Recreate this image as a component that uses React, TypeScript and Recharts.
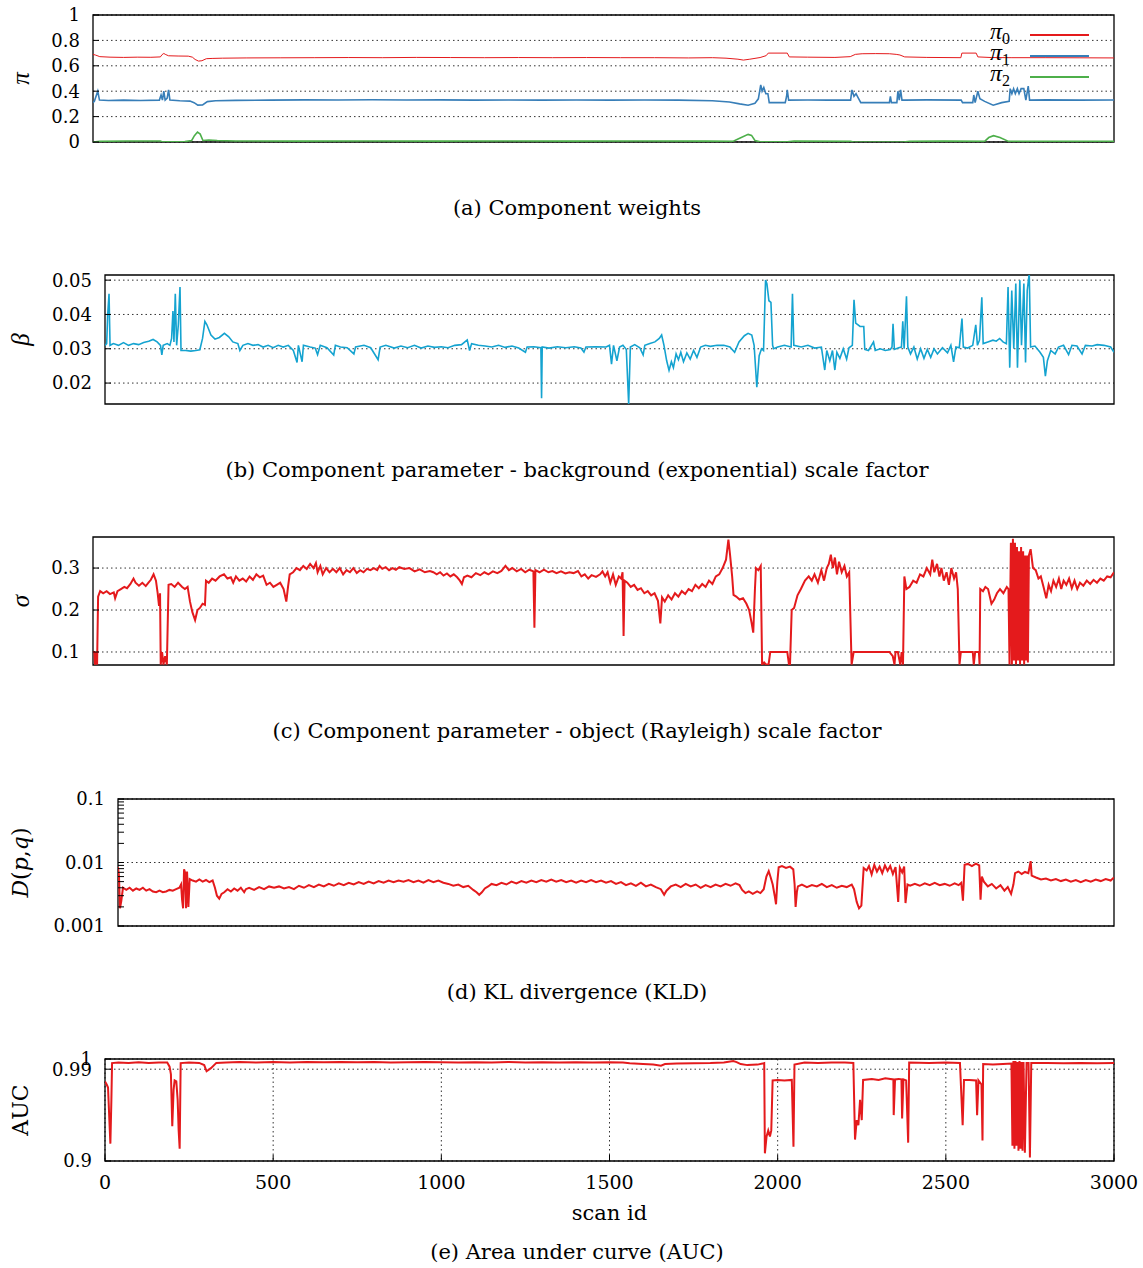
import React from 'react';
import { LineChart, Line, XAxis, YAxis, CartesianGrid, ReferenceArea, Legend } from 'recharts';

type Pt = [number, number];

const FONT = '"DejaVu Serif", serif';
const GREEK = '"Liberation Serif", serif';
const RED = '#e41a1c';
const BLUE = '#377eb8';
const GREEN = '#4daf4a';
const CYAN = '#14a3d0';

const xTicks = [0, 500, 1000, 1500, 2000, 2500, 3000];
const logMinor = [0.002, 0.003, 0.004, 0.005, 0.006, 0.007, 0.008, 0.009, 0.02, 0.03, 0.04, 0.05, 0.06, 0.07, 0.08, 0.09];

// (a) component weights
const pi0: Pt[] = [
  [0, 0.69], [8, 0.684], [20, 0.672], [50, 0.668], [90, 0.666], [130, 0.668], [170, 0.667], [198, 0.67],
  [203, 0.688], [208, 0.697], [214, 0.688], [222, 0.679], [250, 0.677], [280, 0.676], [292, 0.668], [300, 0.65],
  [310, 0.637], [320, 0.64], [333, 0.656], [350, 0.658], [380, 0.66], [450, 0.662], [550, 0.663], [650, 0.664],
  [750, 0.665], [850, 0.664], [950, 0.666], [1050, 0.665], [1150, 0.664], [1250, 0.665], [1350, 0.664],
  [1450, 0.665], [1550, 0.664], [1650, 0.664], [1750, 0.662], [1820, 0.664], [1860, 0.66], [1895, 0.652],
  [1911, 0.645], [1930, 0.652], [1960, 0.665], [1978, 0.68], [1984, 0.7], [2040, 0.7], [2046, 0.67],
  [2100, 0.668], [2180, 0.666], [2225, 0.672], [2240, 0.69], [2260, 0.695], [2300, 0.696], [2340, 0.695],
  [2360, 0.69], [2371, 0.685], [2385, 0.67], [2450, 0.666], [2550, 0.664], [2553, 0.7], [2595, 0.7],
  [2600, 0.67], [2640, 0.665], [2700, 0.664], [2800, 0.664], [2900, 0.663], [3000, 0.662],
];
const pi1: Pt[] = [
  [0, 0.31], [4, 0.32], [9, 0.36], [14, 0.4], [19, 0.33], [45, 0.327], [90, 0.33], [140, 0.327], [195, 0.33],
  [200, 0.37], [204, 0.33], [208, 0.4], [212, 0.33], [218, 0.345], [222, 0.41], [226, 0.33], [255, 0.325],
  [285, 0.322], [297, 0.31], [308, 0.29], [322, 0.292], [336, 0.318], [360, 0.325], [420, 0.328], [520, 0.33],
  [620, 0.332], [720, 0.331], [820, 0.333], [920, 0.331], [1020, 0.332], [1120, 0.33], [1220, 0.331],
  [1320, 0.33], [1420, 0.331], [1520, 0.33], [1620, 0.331], [1720, 0.33], [1820, 0.325], [1870, 0.315],
  [1900, 0.3], [1925, 0.29], [1945, 0.305], [1955, 0.34], [1962, 0.45], [1966, 0.4], [1971, 0.43],
  [1977, 0.38], [1983, 0.38], [1987, 0.31], [2034, 0.31], [2038, 0.36], [2040, 0.41], [2044, 0.33],
  [2100, 0.331], [2160, 0.33], [2226, 0.33], [2230, 0.41], [2236, 0.36], [2242, 0.38], [2248, 0.35],
  [2256, 0.31], [2340, 0.31], [2343, 0.36], [2346, 0.31], [2362, 0.31], [2365, 0.4], [2369, 0.33],
  [2373, 0.41], [2377, 0.33], [2385, 0.33], [2450, 0.332], [2551, 0.33], [2555, 0.31], [2585, 0.31],
  [2588, 0.37], [2592, 0.31], [2600, 0.4], [2606, 0.34], [2620, 0.32], [2645, 0.29], [2670, 0.31],
  [2692, 0.32], [2695, 0.42], [2700, 0.38], [2705, 0.42], [2710, 0.38], [2716, 0.42], [2721, 0.38],
  [2727, 0.42], [2735, 0.42], [2741, 0.33], [2748, 0.44], [2752, 0.33], [2800, 0.332], [2900, 0.33],
  [3000, 0.331],
];
const pi2: Pt[] = [
  [0, 0.0], [20, 0.005], [100, 0.008], [198, 0.008], [204, 0.001], [235, 0.001], [270, 0.003], [290, 0.012],
  [298, 0.05], [307, 0.078], [315, 0.062], [323, 0.012], [340, 0.016], [365, 0.012], [420, 0.008],
  [600, 0.007], [800, 0.008], [1000, 0.007], [1200, 0.008], [1400, 0.007], [1600, 0.008], [1800, 0.007],
  [1880, 0.005], [1900, 0.03], [1925, 0.06], [1935, 0.052], [1945, 0.012], [1960, 0.002], [2040, 0.002],
  [2060, 0.008], [2226, 0.006], [2235, 0.0], [2380, 0.0], [2400, 0.006], [2500, 0.007], [2620, 0.005],
  [2632, 0.035], [2646, 0.05], [2665, 0.035], [2690, 0.005], [2800, 0.005], [3000, 0.006],
];

// (b) background scale factor
const beta: Pt[] = [
  [0, 0.031], [5, 0.0315], [8, 0.04], [12, 0.046], [15, 0.031], [25, 0.0315], [40, 0.031], [55, 0.0318],
  [70, 0.031], [85, 0.0315], [100, 0.0312], [115, 0.0318], [130, 0.0322], [143, 0.0327], [155, 0.032],
  [165, 0.031], [169, 0.0282], [173, 0.031], [185, 0.0315], [193, 0.031], [198, 0.033], [202, 0.041],
  [205, 0.032], [209, 0.046], [213, 0.031], [218, 0.037], [223, 0.048], [226, 0.0295], [240, 0.0295],
  [255, 0.0293], [270, 0.0295], [282, 0.0297], [290, 0.033], [297, 0.038], [303, 0.037], [315, 0.034],
  [327, 0.0328], [340, 0.0333], [355, 0.0345], [368, 0.0335], [380, 0.032], [395, 0.0315], [401, 0.0295],
  [410, 0.031], [425, 0.0315], [440, 0.031], [455, 0.0312], [470, 0.0305], [485, 0.031], [500, 0.0303],
  [515, 0.031], [530, 0.0305], [545, 0.031], [560, 0.0295], [571, 0.026], [575, 0.031], [586, 0.0262],
  [590, 0.031], [610, 0.0305], [625, 0.0302], [632, 0.0283], [640, 0.031], [660, 0.0303], [680, 0.0282],
  [685, 0.031], [700, 0.0305], [720, 0.0303], [740, 0.0285], [745, 0.0305], [770, 0.031], [790, 0.0303],
  [812, 0.0268], [818, 0.0305], [835, 0.031], [860, 0.0302], [880, 0.0308], [900, 0.0303], [920, 0.031],
  [940, 0.0302], [960, 0.0308], [980, 0.0304], [1000, 0.0306], [1020, 0.0303], [1040, 0.031], [1060, 0.0312],
  [1077, 0.0326], [1084, 0.0295], [1090, 0.0315], [1110, 0.031], [1130, 0.0308], [1150, 0.0305], [1170, 0.031],
  [1190, 0.0304], [1210, 0.0308], [1230, 0.0302], [1250, 0.029], [1255, 0.0305], [1275, 0.0306], [1296, 0.0303],
  [1298, 0.0156], [1300, 0.0305], [1320, 0.0302], [1345, 0.0306], [1370, 0.0303], [1395, 0.0306], [1415, 0.0302],
  [1424, 0.029], [1430, 0.0305], [1460, 0.0306], [1490, 0.0305], [1500, 0.031], [1506, 0.0255], [1512, 0.031],
  [1522, 0.0265], [1530, 0.0305], [1540, 0.031], [1550, 0.0298], [1557, 0.0139], [1562, 0.0305], [1575, 0.0312],
  [1590, 0.0303], [1600, 0.0282], [1605, 0.031], [1620, 0.0315], [1635, 0.032], [1648, 0.033], [1655, 0.034],
  [1662, 0.031], [1670, 0.0265], [1677, 0.0237], [1684, 0.0262], [1690, 0.0245], [1698, 0.0285], [1705, 0.0268],
  [1712, 0.029], [1720, 0.0262], [1730, 0.0288], [1740, 0.027], [1750, 0.0295], [1760, 0.0275], [1771, 0.0305],
  [1785, 0.031], [1800, 0.0307], [1820, 0.031], [1840, 0.031], [1858, 0.0305], [1872, 0.029], [1885, 0.032],
  [1901, 0.0338], [1912, 0.0345], [1923, 0.034], [1930, 0.031], [1938, 0.0188], [1945, 0.028], [1952, 0.03],
  [1958, 0.0295], [1964, 0.05], [1968, 0.049], [1974, 0.044], [1980, 0.0435], [1985, 0.031], [1988, 0.03],
  [2000, 0.0305], [2020, 0.031], [2040, 0.0305], [2044, 0.046], [2048, 0.031], [2070, 0.0305], [2090, 0.031],
  [2110, 0.0302], [2130, 0.0305], [2140, 0.0238], [2146, 0.0295], [2155, 0.0265], [2163, 0.0295], [2170, 0.0238],
  [2176, 0.029], [2185, 0.0272], [2195, 0.03], [2205, 0.027], [2212, 0.0303], [2222, 0.031], [2227, 0.0443],
  [2232, 0.0375], [2245, 0.0365], [2256, 0.0365], [2259, 0.0298], [2270, 0.0295], [2285, 0.032], [2290, 0.0295],
  [2305, 0.03], [2320, 0.0295], [2335, 0.0298], [2340, 0.0305], [2343, 0.0373], [2347, 0.0298], [2360, 0.0303],
  [2368, 0.0305], [2372, 0.038], [2376, 0.03], [2383, 0.0453], [2387, 0.0305], [2395, 0.0285], [2405, 0.0305],
  [2415, 0.027], [2425, 0.03], [2435, 0.0272], [2445, 0.0298], [2455, 0.0275], [2465, 0.03], [2475, 0.0285],
  [2490, 0.0303], [2505, 0.0288], [2515, 0.031], [2523, 0.0262], [2530, 0.0305], [2540, 0.0303], [2548, 0.0388],
  [2552, 0.0305], [2565, 0.0302], [2580, 0.031], [2589, 0.037], [2594, 0.031], [2600, 0.0325], [2607, 0.045],
  [2611, 0.0315], [2625, 0.032], [2640, 0.0325], [2650, 0.0322], [2660, 0.033], [2670, 0.032], [2680, 0.0315],
  [2685, 0.048], [2690, 0.0245], [2696, 0.047], [2702, 0.03], [2708, 0.049], [2713, 0.0245], [2720, 0.05],
  [2725, 0.031], [2732, 0.049], [2737, 0.026], [2742, 0.047], [2748, 0.052], [2752, 0.0305], [2765, 0.0308],
  [2780, 0.029], [2790, 0.0275], [2796, 0.022], [2802, 0.0265], [2812, 0.0295], [2825, 0.0285], [2835, 0.0305],
  [2850, 0.031], [2865, 0.0283], [2875, 0.031], [2890, 0.0308], [2905, 0.0285], [2915, 0.031], [2935, 0.0308],
  [2950, 0.0312], [2970, 0.031], [2990, 0.0305], [3000, 0.029],
];

// (c) object scale factor
const sigma: Pt[] = [
  [0, 0.1], [4, 0.1], [6, 0.07], [10, 0.1], [12, 0.07], [15, 0.232], [21, 0.245], [30, 0.24], [40, 0.245],
  [50, 0.238], [61, 0.242], [65, 0.228], [72, 0.245], [82, 0.25], [92, 0.255], [100, 0.252], [110, 0.262],
  [119, 0.275], [125, 0.265], [135, 0.258], [145, 0.265], [155, 0.257], [163, 0.265], [170, 0.272], [178, 0.285],
  [185, 0.27], [190, 0.24], [194, 0.21], [197, 0.24], [199, 0.07], [203, 0.1], [207, 0.07], [212, 0.09],
  [217, 0.07], [222, 0.26], [230, 0.262], [240, 0.255], [250, 0.265], [262, 0.255], [270, 0.25], [278, 0.255],
  [285, 0.22], [292, 0.195], [300, 0.176], [307, 0.2], [314, 0.205], [322, 0.215], [329, 0.212], [332, 0.27],
  [340, 0.265], [350, 0.275], [360, 0.27], [372, 0.28], [385, 0.285], [395, 0.275], [405, 0.278], [412, 0.265],
  [420, 0.28], [430, 0.27], [440, 0.275], [450, 0.268], [460, 0.28], [470, 0.272], [480, 0.285], [490, 0.278],
  [500, 0.282], [510, 0.26], [520, 0.265], [530, 0.255], [540, 0.26], [550, 0.265], [560, 0.25], [568, 0.22],
  [573, 0.255], [578, 0.285], [588, 0.29], [598, 0.3], [608, 0.295], [618, 0.305], [628, 0.298], [638, 0.31],
  [648, 0.3], [655, 0.312], [660, 0.29], [668, 0.305], [675, 0.285], [685, 0.3], [695, 0.29], [705, 0.298],
  [715, 0.29], [725, 0.3], [735, 0.285], [745, 0.295], [755, 0.29], [765, 0.3], [775, 0.288], [785, 0.295],
  [795, 0.29], [805, 0.298], [815, 0.295], [825, 0.3], [835, 0.295], [842, 0.305], [850, 0.298], [860, 0.302],
  [870, 0.295], [880, 0.3], [890, 0.296], [900, 0.302], [915, 0.298], [930, 0.3], [945, 0.292], [960, 0.297],
  [975, 0.29], [990, 0.293], [1000, 0.29], [1010, 0.285], [1020, 0.29], [1030, 0.282], [1040, 0.287],
  [1050, 0.28], [1060, 0.285], [1070, 0.278], [1078, 0.27], [1084, 0.262], [1090, 0.278], [1100, 0.282],
  [1112, 0.278], [1125, 0.288], [1138, 0.283], [1150, 0.29], [1162, 0.285], [1175, 0.292], [1188, 0.288],
  [1200, 0.293], [1212, 0.305], [1222, 0.295], [1232, 0.3], [1245, 0.292], [1258, 0.298], [1270, 0.29],
  [1282, 0.296], [1294, 0.292], [1297, 0.158], [1300, 0.295], [1312, 0.29], [1325, 0.296], [1338, 0.29],
  [1350, 0.293], [1362, 0.288], [1375, 0.292], [1388, 0.287], [1400, 0.29], [1412, 0.288], [1425, 0.293],
  [1435, 0.28], [1445, 0.285], [1455, 0.275], [1465, 0.283], [1478, 0.279], [1490, 0.285], [1497, 0.292],
  [1505, 0.28], [1512, 0.29], [1520, 0.265], [1528, 0.285], [1536, 0.26], [1545, 0.28], [1552, 0.275],
  [1556, 0.29], [1559, 0.138], [1562, 0.27], [1570, 0.265], [1580, 0.255], [1590, 0.26], [1600, 0.248],
  [1610, 0.252], [1620, 0.24], [1630, 0.245], [1640, 0.235], [1650, 0.24], [1660, 0.222], [1667, 0.168],
  [1672, 0.23], [1680, 0.22], [1690, 0.235], [1700, 0.225], [1710, 0.24], [1720, 0.232], [1730, 0.245],
  [1740, 0.238], [1750, 0.25], [1760, 0.245], [1770, 0.26], [1780, 0.252], [1790, 0.262], [1800, 0.255],
  [1810, 0.27], [1820, 0.262], [1830, 0.28], [1840, 0.285], [1850, 0.3], [1860, 0.32], [1867, 0.368],
  [1872, 0.33], [1878, 0.28], [1882, 0.236], [1890, 0.232], [1900, 0.225], [1910, 0.228], [1920, 0.215],
  [1928, 0.2], [1935, 0.17], [1940, 0.146], [1945, 0.25], [1948, 0.3], [1955, 0.295], [1962, 0.305],
  [1966, 0.07], [1972, 0.075], [1978, 0.07], [1985, 0.07], [1990, 0.1], [2040, 0.1], [2045, 0.07], [2048, 0.07],
  [2053, 0.2], [2060, 0.205], [2070, 0.235], [2080, 0.25], [2092, 0.27], [2103, 0.28], [2112, 0.27],
  [2120, 0.285], [2130, 0.265], [2140, 0.295], [2148, 0.27], [2156, 0.3], [2162, 0.31], [2168, 0.332],
  [2174, 0.3], [2180, 0.325], [2186, 0.285], [2192, 0.315], [2200, 0.29], [2208, 0.305], [2215, 0.28],
  [2222, 0.29], [2229, 0.07], [2235, 0.1], [2300, 0.1], [2340, 0.1], [2350, 0.09], [2355, 0.07], [2358, 0.1],
  [2365, 0.1], [2372, 0.07], [2376, 0.1], [2380, 0.07], [2384, 0.28], [2390, 0.25], [2399, 0.255], [2410, 0.27],
  [2420, 0.265], [2430, 0.285], [2440, 0.28], [2450, 0.3], [2460, 0.285], [2466, 0.32], [2472, 0.29],
  [2480, 0.31], [2487, 0.28], [2493, 0.3], [2500, 0.27], [2508, 0.29], [2515, 0.26], [2522, 0.3], [2530, 0.275],
  [2536, 0.29], [2541, 0.25], [2546, 0.07], [2550, 0.1], [2585, 0.1], [2588, 0.07], [2592, 0.1], [2603, 0.1],
  [2605, 0.07], [2607, 0.25], [2615, 0.245], [2622, 0.255], [2630, 0.25], [2640, 0.215], [2648, 0.225],
  [2656, 0.24], [2665, 0.25], [2675, 0.24], [2685, 0.255], [2690, 0.25], [2693, 0.07], [2697, 0.36],
  [2700, 0.07], [2703, 0.37], [2706, 0.08], [2709, 0.36], [2712, 0.07], [2715, 0.35], [2718, 0.08],
  [2721, 0.34], [2724, 0.07], [2727, 0.35], [2730, 0.08], [2733, 0.34], [2736, 0.07], [2739, 0.33],
  [2742, 0.08], [2745, 0.33], [2747, 0.075], [2750, 0.33], [2755, 0.345], [2762, 0.3], [2770, 0.295],
  [2778, 0.275], [2785, 0.28], [2793, 0.255], [2801, 0.228], [2808, 0.26], [2815, 0.245], [2822, 0.27],
  [2830, 0.255], [2838, 0.275], [2845, 0.25], [2852, 0.27], [2860, 0.26], [2868, 0.275], [2876, 0.252],
  [2884, 0.27], [2892, 0.25], [2900, 0.265], [2910, 0.258], [2920, 0.27], [2930, 0.262], [2940, 0.272],
  [2950, 0.265], [2960, 0.275], [2970, 0.27], [2980, 0.28], [2990, 0.278], [3000, 0.29],
];

// (d) KL divergence
const kld: Pt[] = [
  [0, 0.0085], [3, 0.006], [6, 0.0019], [10, 0.0025], [15, 0.004], [25, 0.0037], [35, 0.004], [45, 0.0036],
  [55, 0.0039], [65, 0.0037], [75, 0.004], [85, 0.0036], [95, 0.0038], [105, 0.0035], [115, 0.0034],
  [125, 0.0036], [135, 0.0034], [145, 0.0035], [155, 0.0037], [165, 0.0036], [175, 0.0038], [185, 0.004],
  [190, 0.0045], [193, 0.0026], [196, 0.0019], [199, 0.0078], [202, 0.007], [205, 0.0019], [208, 0.0072],
  [212, 0.002], [216, 0.0055], [225, 0.0052], [235, 0.005], [245, 0.0054], [255, 0.005], [265, 0.0053],
  [275, 0.0049], [285, 0.0052], [292, 0.004], [298, 0.003], [305, 0.0027], [312, 0.0032], [320, 0.0034],
  [330, 0.0038], [340, 0.0035], [350, 0.0039], [360, 0.0036], [370, 0.004], [380, 0.0034], [385, 0.0038],
  [395, 0.004], [410, 0.0037], [425, 0.0041], [440, 0.0038], [455, 0.0042], [470, 0.004], [485, 0.0042],
  [500, 0.0039], [515, 0.0041], [530, 0.0038], [545, 0.0043], [560, 0.004], [575, 0.0044], [590, 0.0041],
  [605, 0.0045], [620, 0.0042], [635, 0.0046], [650, 0.0043], [665, 0.0047], [680, 0.0044], [695, 0.0048],
  [710, 0.0045], [725, 0.0049], [740, 0.0046], [755, 0.005], [770, 0.0047], [785, 0.0051], [800, 0.0048],
  [815, 0.0052], [830, 0.0049], [845, 0.0052], [860, 0.005], [875, 0.0053], [890, 0.0049], [905, 0.0052],
  [920, 0.0048], [935, 0.0053], [950, 0.0049], [965, 0.0052], [980, 0.0048], [995, 0.0046], [1010, 0.0043],
  [1025, 0.0045], [1040, 0.0041], [1055, 0.0043], [1070, 0.0037], [1080, 0.0034], [1088, 0.0031],
  [1096, 0.0034], [1105, 0.0039], [1115, 0.0042], [1125, 0.0046], [1140, 0.0044], [1155, 0.0048],
  [1170, 0.0045], [1185, 0.005], [1200, 0.0047], [1215, 0.0051], [1230, 0.0048], [1245, 0.0052], [1260, 0.0049],
  [1275, 0.0053], [1290, 0.005], [1305, 0.0054], [1320, 0.005], [1335, 0.0053], [1350, 0.0049], [1365, 0.0052],
  [1380, 0.0048], [1395, 0.0052], [1410, 0.0049], [1425, 0.0053], [1440, 0.0049], [1455, 0.0052],
  [1470, 0.0048], [1485, 0.0051], [1500, 0.0046], [1515, 0.0049], [1530, 0.0044], [1545, 0.0047],
  [1560, 0.0043], [1575, 0.0048], [1590, 0.0042], [1605, 0.0045], [1620, 0.0041], [1635, 0.0038],
  [1645, 0.0031], [1652, 0.0036], [1665, 0.0042], [1680, 0.0045], [1695, 0.0041], [1710, 0.0046],
  [1725, 0.0042], [1740, 0.0045], [1755, 0.004], [1770, 0.0044], [1785, 0.0041], [1800, 0.0045], [1815, 0.0042],
  [1830, 0.0046], [1845, 0.0043], [1860, 0.0047], [1872, 0.0044], [1880, 0.0037], [1890, 0.0033],
  [1900, 0.0035], [1912, 0.0032], [1925, 0.0035], [1935, 0.0033], [1945, 0.0038], [1953, 0.006], [1960, 0.0073],
  [1966, 0.0058], [1972, 0.0045], [1978, 0.003], [1982, 0.0022], [1986, 0.005], [1990, 0.0084], [2000, 0.0088],
  [2012, 0.0082], [2024, 0.0086], [2034, 0.0078], [2038, 0.0045], [2041, 0.002], [2045, 0.0035], [2048, 0.0042],
  [2060, 0.0045], [2075, 0.0041], [2090, 0.0044], [2105, 0.0042], [2120, 0.0046], [2135, 0.0041],
  [2150, 0.0044], [2165, 0.004], [2180, 0.0043], [2195, 0.0041], [2210, 0.0045], [2217, 0.0038],
  [2225, 0.0024], [2232, 0.0019], [2239, 0.0021], [2246, 0.0082], [2255, 0.0075], [2262, 0.0088],
  [2270, 0.0065], [2278, 0.0092], [2286, 0.0072], [2294, 0.0086], [2302, 0.0068], [2310, 0.009], [2318, 0.0074],
  [2326, 0.0088], [2334, 0.0066], [2342, 0.0085], [2350, 0.0024], [2355, 0.0083], [2362, 0.007], [2368, 0.0086],
  [2372, 0.0023], [2378, 0.0045], [2386, 0.0043], [2400, 0.0046], [2415, 0.0043], [2430, 0.0047],
  [2445, 0.0044], [2460, 0.0048], [2475, 0.0044], [2490, 0.0046], [2505, 0.0043], [2520, 0.0047],
  [2532, 0.0044], [2540, 0.0048], [2545, 0.0025], [2550, 0.0092], [2560, 0.0095], [2572, 0.0088],
  [2584, 0.0096], [2594, 0.009], [2598, 0.0026], [2602, 0.006], [2608, 0.005], [2620, 0.0042], [2632, 0.0046],
  [2645, 0.0039], [2658, 0.0044], [2670, 0.0036], [2680, 0.0041], [2690, 0.0032], [2697, 0.0045],
  [2702, 0.0068], [2712, 0.0072], [2722, 0.0066], [2732, 0.0071], [2742, 0.0068], [2749, 0.0105],
  [2752, 0.0062], [2765, 0.0058], [2780, 0.0054], [2795, 0.0056], [2810, 0.0052], [2825, 0.0055],
  [2840, 0.0051], [2855, 0.0054], [2870, 0.005], [2885, 0.0053], [2900, 0.0049], [2915, 0.0053], [2930, 0.005],
  [2945, 0.0054], [2960, 0.0051], [2975, 0.0055], [2990, 0.0052], [3000, 0.0058],
];

// (e) area under curve
const auc: Pt[] = [
  [0, 0.978], [5, 0.975], [9, 0.972], [13, 0.94], [16, 0.917], [19, 0.96], [21, 0.996], [40, 0.9965],
  [70, 0.996], [100, 0.9968], [130, 0.9962], [160, 0.9966], [185, 0.9965], [192, 0.9925], [196, 0.985],
  [200, 0.934], [204, 0.97], [207, 0.979], [212, 0.978], [216, 0.96], [219, 0.93], [222, 0.912], [225, 0.996],
  [250, 0.9965], [280, 0.9962], [295, 0.994], [302, 0.988], [315, 0.991], [331, 0.9962], [360, 0.9965],
  [400, 0.997], [450, 0.9966], [500, 0.997], [550, 0.9966], [600, 0.997], [650, 0.9968], [700, 0.997],
  [750, 0.9968], [800, 0.997], [850, 0.9966], [900, 0.9968], [950, 0.997], [1000, 0.9968], [1050, 0.9965],
  [1100, 0.9968], [1150, 0.9966], [1200, 0.997], [1250, 0.9966], [1300, 0.9968], [1350, 0.9965], [1400, 0.9968],
  [1450, 0.9966], [1500, 0.9968], [1540, 0.9965], [1560, 0.9958], [1600, 0.995], [1630, 0.9945], [1653, 0.9935],
  [1665, 0.995], [1700, 0.9955], [1750, 0.9958], [1800, 0.996], [1840, 0.9965], [1868, 0.998], [1878, 0.997],
  [1890, 0.995], [1910, 0.994], [1940, 0.9945], [1955, 0.9955], [1960, 0.996], [1962, 0.9075], [1967, 0.924],
  [1972, 0.93], [1977, 0.924], [1981, 0.93], [1985, 0.979], [2000, 0.9795], [2020, 0.979], [2042, 0.9795],
  [2047, 0.914], [2050, 0.9945], [2080, 0.9965], [2120, 0.9962], [2160, 0.9966], [2200, 0.9965], [2225, 0.9962],
  [2230, 0.921], [2235, 0.94], [2240, 0.935], [2245, 0.96], [2250, 0.94], [2254, 0.9795], [2280, 0.9805],
  [2300, 0.9795], [2320, 0.981], [2344, 0.98], [2345, 0.945], [2349, 0.98], [2360, 0.9805], [2368, 0.98],
  [2370, 0.9416], [2374, 0.98], [2382, 0.979], [2388, 0.918], [2391, 0.9965], [2450, 0.9962], [2500, 0.9966],
  [2542, 0.9962], [2550, 0.935], [2554, 0.9795], [2570, 0.9795], [2590, 0.979], [2593, 0.945], [2597, 0.979],
  [2606, 0.975], [2609, 0.92], [2611, 0.995], [2640, 0.9945], [2670, 0.995], [2695, 0.9955], [2698, 0.915],
  [2701, 0.998], [2704, 0.912], [2707, 0.998], [2710, 0.915], [2713, 0.997], [2716, 0.91], [2719, 0.998],
  [2722, 0.912], [2725, 0.997], [2728, 0.91], [2731, 0.997], [2735, 0.908], [2740, 0.996], [2746, 0.996],
  [2750, 0.9035], [2754, 0.996], [2800, 0.9962], [2850, 0.9958], [2900, 0.996], [2950, 0.9958], [3000, 0.996],
];

const captions = [
  '(a) Component weights',
  '(b) Component parameter - background (exponential) scale factor',
  '(c) Component parameter - object (Rayleigh) scale factor',
  '(d) KL divergence (KLD)',
  '(e) Area under curve (AUC)',
];
const captionY = [208, 470, 731, 992, 1252];

interface Series { pts: Pt[]; color: string; width: number; name: string }

const yTickStyle = { fill: '#000', fontSize: 18, fontFamily: FONT };
const xTickStyle = { fill: '#000', fontSize: 19, fontFamily: FONT };
const M = 15;

function PiLegend() {
  const rows: [string, string][] = [['0', RED], ['1', BLUE], ['2', GREEN]];
  return (
    <div style={{ fontFamily: GREEK, fontSize: 24 }}>
      {rows.map(([k, c]) => (
        <div key={k} style={{ display: 'flex', alignItems: 'center', height: 21 }}>
          <span style={{ width: 40, fontStyle: 'italic', lineHeight: '21px' }}>
            π<sub style={{ fontStyle: 'normal', fontSize: 16, verticalAlign: '-5px' }}>{k}</sub>
          </span>
          <span style={{ display: 'inline-block', width: 59, height: 0, borderTop: `2px solid ${c}` }} />
        </div>
      ))}
    </div>
  );
}

function Panel(props: {
  top: number; plotLeft: number; plotH: number; series: Series[];
  yDomain: [number, number]; yTicks: number[]; yLog?: boolean;
  yTitle: React.ReactNode; titleFont?: string; xLabels?: boolean; legend?: boolean;
}) {
  const { top, plotLeft, plotH, series, yDomain, yTicks, yLog, yTitle, titleFont, xLabels, legend } = props;
  const xH = xLabels ? 70 : 0;
  const height = M + plotH + xH + M;
  const cy = M + plotH / 2;
  const leftTicks = yLog ? [...yTicks, ...logMinor] : yTicks;
  return (
    <div style={{ position: 'absolute', left: 0, top: top - M }}>
      <LineChart width={1143} height={height} margin={{ top: M, right: 29, bottom: M, left: 0 }}>
        <CartesianGrid stroke="#333" strokeDasharray="1.5 3" horizontalValues={yTicks} verticalValues={xTicks} />
        <XAxis
          type="number" dataKey="id" domain={[0, 3000]} ticks={xTicks} allowDataOverflow interval={0}
          height={xH} tick={xLabels ? xTickStyle : false} tickSize={-6} tickMargin={21}
          axisLine={false} tickLine={{ stroke: '#000' }}
          label={xLabels ? {
            content: () => (
              <text x={609.5} y={M + plotH + 52} textAnchor="middle" dominantBaseline="central"
                fontFamily={FONT} fontSize={21} fill="#000">scan id</text>
            ),
          } : undefined}
        />
        <XAxis xAxisId="top" orientation="top" type="number" domain={[0, 3000]} ticks={xTicks} height={0}
          tick={false} tickSize={-6} axisLine={false} tickLine={{ stroke: '#000' }} />
        <YAxis
          type="number" domain={yDomain} ticks={leftTicks} scale={yLog ? 'log' : 'linear'} allowDataOverflow
          interval={0} width={plotLeft} tick={yTickStyle} tickSize={-6} tickMargin={19}
          axisLine={false} tickLine={{ stroke: '#000' }}
          tickFormatter={(v: number) => (yTicks.includes(v) ? String(v) : '')}
          label={{
            content: () => (
              <text x={20} y={cy} transform={`rotate(-90 20 ${cy})`} textAnchor="middle"
                dominantBaseline="central" fontFamily={titleFont ?? FONT} fontSize={titleFont ? 25 : 22}
                fill="#000">{yTitle}</text>
            ),
          }}
        />
        <YAxis yAxisId="right" orientation="right" type="number" domain={yDomain} ticks={leftTicks}
          scale={yLog ? 'log' : 'linear'} allowDataOverflow interval={0} width={0} tick={false}
          tickSize={-6} axisLine={false} tickLine={{ stroke: '#000' }} />
        {series.map((s) => (
          <Line key={s.name} name={s.name} data={s.pts.map(([id, v]) => ({ id, v }))} dataKey="v"
            stroke={s.color} strokeWidth={s.width} dot={false} isAnimationActive={false} />
        ))}
        <ReferenceArea x1={0} x2={3000} y1={yDomain[0]} y2={yDomain[1]} ifOverflow="visible"
          fill="none" fillOpacity={0} stroke="#000" strokeWidth={1.3} />
        {legend && (
          <Legend layout="horizontal" verticalAlign="middle" align="center" content={() => <PiLegend />}
            wrapperStyle={{ position: 'absolute', left: 990, top: 24, width: 110 }} />
        )}
      </LineChart>
    </div>
  );
}

export default function App() {
  return (
    <div style={{ position: 'absolute', left: 0, top: 0, width: 1143, height: 1268, background: '#fff', fontFamily: FONT }}>
      <Panel top={15} plotLeft={93} plotH={127} yDomain={[0, 1]} yTicks={[0, 0.2, 0.4, 0.6, 0.8, 1]}
        yTitle={<tspan fontStyle="italic">π</tspan>} titleFont={GREEK} legend
        series={[
          { pts: pi0, color: RED, width: 1, name: 'π0' },
          { pts: pi1, color: BLUE, width: 1.6, name: 'π1' },
          { pts: pi2, color: GREEN, width: 1.6, name: 'π2' },
        ]} />
      <Panel top={275} plotLeft={105} plotH={129} yDomain={[0.0139, 0.0515]} yTicks={[0.02, 0.03, 0.04, 0.05]}
        yTitle={<tspan fontStyle="italic">β</tspan>} titleFont={GREEK}
        series={[{ pts: beta, color: CYAN, width: 1.6, name: 'beta' }]} />
      <Panel top={537} plotLeft={93} plotH={128} yDomain={[0.069, 0.374]} yTicks={[0.1, 0.2, 0.3]}
        yTitle={<tspan fontStyle="italic">σ</tspan>} titleFont={GREEK}
        series={[{ pts: sigma, color: RED, width: 2, name: 'sigma' }]} />
      <Panel top={799} plotLeft={118} plotH={127} yDomain={[0.001, 0.1]} yTicks={[0.001, 0.01, 0.1]} yLog
        yTitle={<><tspan fontStyle="italic">D</tspan>(<tspan fontStyle="italic">p</tspan>,<tspan fontStyle="italic">q</tspan>)</>}
        series={[{ pts: kld, color: RED, width: 2, name: 'kld' }]} />
      <Panel top={1059} plotLeft={105} plotH={102} yDomain={[0.9, 1]} yTicks={[0.9, 0.99, 1]} xLabels
        yTitle="AUC"
        series={[{ pts: auc, color: RED, width: 2, name: 'auc' }]} />
      {captions.map((c, i) => (
        <div key={c} style={{ position: 'absolute', left: 0, width: 1154, top: captionY[i] - 12, height: 24,
          lineHeight: '24px', textAlign: 'center', fontSize: 21, color: '#000' }}>{c}</div>
      ))}
    </div>
  );
}
